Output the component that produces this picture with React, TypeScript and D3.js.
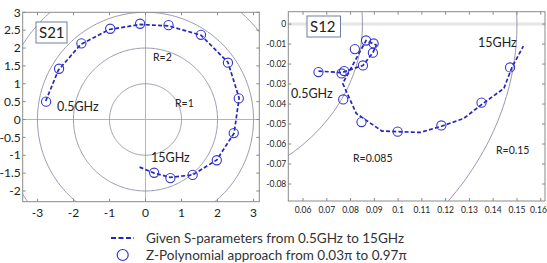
import React from 'react';
import * as d3 from 'd3';

// S21 (left panel): dashed trace and Z-polynomial samples
const s21Trace: [number, number][] = [
  [-2.77, 0.52], [-2.42, 1.38], [-1.8, 2.1], [-1.0, 2.52], [-0.15, 2.66],
  [0.64, 2.62], [1.54, 2.36], [2.29, 1.6], [2.6, 0.6], [2.46, -0.38],
  [1.98, -1.13], [1.31, -1.55], [0.69, -1.62], [0.24, -1.5], [-0.17, -1.33],
];
const s21Samples: [number, number][] = [
  [-2.76, 0.5], [-2.4, 1.42], [-1.78, 2.13], [-0.98, 2.54], [-0.15, 2.68],
  [0.64, 2.64], [1.54, 2.37], [2.29, 1.59], [2.59, 0.59], [2.45, -0.38],
  [1.98, -1.14], [1.31, -1.55], [0.69, -1.64], [0.24, -1.49],
];
const s21Rings = [1, 2, 3, 4];
const s21XTicks = [-3, -2, -1, 0, 1, 2, 3];
const s21YTicks = [-2, -1.5, -1, -0.5, 0, 0.5, 1, 1.5, 2, 2.5, 3];

// S12 (right panel)
const s12Trace: [number, number][] = [
  [0.0665, -0.0235], [0.0762, -0.0243], [0.0852, -0.0207], [0.0894, -0.0143],
  [0.0908, -0.0105], [0.0865, -0.0082], [0.0767, -0.0297], [0.0824, -0.0447],
  [0.0932, -0.0535], [0.1094, -0.0542], [0.1185, -0.051], [0.1276, -0.0472],
  [0.1354, -0.04], [0.1445, -0.0322], [0.148, -0.0213], [0.1527, -0.011],
];
const s12Samples: [number, number][] = [
  [0.0665, -0.024], [0.0762, -0.0247], [0.0773, -0.0235], [0.0818, -0.0125],
  [0.0865, -0.0082], [0.0897, -0.0097], [0.0894, -0.0143], [0.0852, -0.0207],
  [0.0769, -0.0377], [0.0846, -0.049], [0.0998, -0.0538], [0.1182, -0.0507],
  [0.1351, -0.0393], [0.1471, -0.0217],
];
const s12Rings = [0.085, 0.15];
const s12XTicks = [0.06, 0.07, 0.08, 0.09, 0.1, 0.11, 0.12, 0.13, 0.14, 0.15, 0.16];
const s12YTicks = [0, -0.01, -0.02, -0.03, -0.04, -0.05, -0.06, -0.07, -0.08];

const legendItems = [
  'Given S-parameters from 0.5GHz to 15GHz',
  'Z-Polynomial approach from 0.03\u03c0 to 0.97\u03c0',
];

const WIDTH = 547;
const HEIGHT = 263;
const FONT = 'Lato, "Open Sans", sans-serif';
const TRACE = '#2626b8';
const MARKER = '#3636cc';
const RING = '#8c8ca8';
const FRAME = '#8a8a8a';
const TEXT = '#222';

type Scale = d3.ScaleLinear<number, number>;

const ringPath = (x: Scale, y: Scale, r: number) =>
  d3
    .line<number>()
    .x((a) => x(r * Math.cos(a)))
    .y((a) => y(r * Math.sin(a)))(d3.range(0, 2 * Math.PI + 0.01, Math.PI / 180)) || '';

interface PanelProps {
  id: string;
  x: Scale;
  y: Scale;
  xTicks: number[];
  yTicks: number[];
  tickFont: number;
  rings: number[];
  trace: [number, number][];
  samples: [number, number][];
  zeroLines: 'both' | 'y';
  children?: React.ReactNode;
}

const Panel = ({ id, x, y, xTicks, yTicks, tickFont, rings, trace, samples, zeroLines, children }: PanelProps) => {
  const [x0, x1] = x.range();
  const [y0, y1] = y.range();
  const line = d3
    .line<[number, number]>()
    .x((d) => x(d[0]))
    .y((d) => y(d[1]));
  const tl = 3;
  // keep the last tick label inside the svg
  const labelX = (t: number) => Math.min(x(t), WIDTH - tickFont);
  return (
    <g>
      <defs>
        <clipPath id={id}>
          <rect x={x0} y={y1} width={x1 - x0} height={y0 - y1} />
        </clipPath>
      </defs>
      <rect x={x0} y={y1} width={x1 - x0} height={y0 - y1} fill="#fff" />
      <g clipPath={`url(#${id})`}>
        {zeroLines === 'both' && (
          <>
            <line x1={x(0)} x2={x(0)} y1={y1} y2={y0} stroke="#b4b4b4" strokeWidth={1} />
            <line x1={x0} x2={x1} y1={y(0)} y2={y(0)} stroke="#b4b4b4" strokeWidth={1} />
          </>
        )}
        {zeroLines === 'y' && (
          <line x1={x0} x2={x1} y1={y(0)} y2={y(0)} stroke="#e6e6e6" strokeWidth={3} />
        )}
        {rings.map((r) => (
          <path key={r} d={ringPath(x, y, r)} fill="none" stroke={RING} strokeWidth={0.9} />
        ))}
        <path d={line(trace) || ''} fill="none" stroke={TRACE} strokeWidth={1.7} strokeDasharray="4,2.2" />
        {samples.map((d, i) => (
          <circle key={i} cx={x(d[0])} cy={y(d[1])} r={4.6} fill="none" stroke={MARKER} strokeWidth={1.1} />
        ))}
      </g>
      <rect x={x0} y={y1} width={x1 - x0} height={y0 - y1} fill="none" stroke={FRAME} strokeWidth={1} />
      {xTicks.map((t) => (
        <g key={`x${t}`}>
          <line x1={x(t)} x2={x(t)} y1={y0} y2={y0 - tl} stroke={FRAME} />
          <line x1={x(t)} x2={x(t)} y1={y1} y2={y1 + tl} stroke={FRAME} />
          <text x={labelX(t)} y={y0 + tickFont + 3} textAnchor="middle" fontSize={tickFont} fill={TEXT} fontFamily={FONT}>
            {String(+t.toFixed(3))}
          </text>
        </g>
      ))}
      {yTicks.map((t) => (
        <g key={`y${t}`}>
          <line x1={x0} x2={x0 + tl} y1={y(t)} y2={y(t)} stroke={FRAME} />
          <line x1={x1} x2={x1 - tl} y1={y(t)} y2={y(t)} stroke={FRAME} />
          <text x={x0 - 2} y={y(t)} dy="0.35em" textAnchor="end" fontSize={tickFont} fill={TEXT} fontFamily={FONT}>
            {String(+t.toFixed(3))}
          </text>
        </g>
      ))}
      {children}
    </g>
  );
};

const Label = ({ x, y, text, size = 12 }: { x: number; y: number; text: string; size?: number }) => (
  <text x={x} y={y} dy="0.35em" fontSize={size} fill={TEXT} fontFamily={FONT}>
    {text}
  </text>
);

const App = () => {
  const lx = d3.scaleLinear().domain([-3.41, 3.16]).range([22.7, 259.3]);
  const ly = d3.scaleLinear().domain([-2.3, 3]).range([201.7, 12.3]);
  const rx = d3.scaleLinear().domain([0.0538, 0.1618]).range([288.3, 545]);
  const ry = d3.scaleLinear().domain([-0.0885, 0.0062]).range([201, 11.7]);

  return (
    <svg
      width={WIDTH}
      height={HEIGHT}
      style={{ position: 'absolute', left: 0, top: 0, background: '#fff' }}
    >
      <Panel
        id="clip-s21"
        x={lx}
        y={ly}
        xTicks={s21XTicks}
        yTicks={s21YTicks}
        tickFont={12}
        rings={s21Rings}
        trace={s21Trace}
        samples={s21Samples}
        zeroLines="both"
      >
        <rect x={36} y={22} width={31} height={21} fill="#fff" stroke="#6f7f9f" strokeWidth={1} />
        <Label x={39} y={33} text="S21" size={15} />
        <Label x={57} y={107} text="0.5GHz" size={12.5} />
        <Label x={153} y={57} text="R=2" size={10.5} />
        <Label x={175} y={103} text="R=1" size={10.5} />
        <Label x={151} y={158} text="15GHz" size={12.5} />
      </Panel>
      <Panel
        id="clip-s12"
        x={rx}
        y={ry}
        xTicks={s12XTicks}
        yTicks={s12YTicks}
        tickFont={8.5}
        rings={s12Rings}
        trace={s12Trace}
        samples={s12Samples}
        zeroLines="y"
      >
        <rect x={307} y={16} width={33.5} height={21} fill="#fff" stroke="#6f7f9f" strokeWidth={1} />
        <Label x={310} y={27} text="S12" size={15} />
        <Label x={291} y={94} text="0.5GHz" size={12.5} />
        <Label x={353} y={158} text="R=0.085" size={10.5} />
        <Label x={478} y={43} text="15GHz" size={12.5} />
        <Label x={496} y={150} text="R=0.15" size={10.5} />
      </Panel>

      {/* legend */}
      <line x1={111} x2={134} y1={238} y2={238} stroke={TRACE} strokeWidth={2} strokeDasharray="5,2.5" />
      <text x={146} y={238} dy="0.35em" fontSize={13.5} fill="#333" fontFamily={FONT}>
        {legendItems[0]}
      </text>
      <circle cx={122.7} cy={255} r={5.5} fill="none" stroke={MARKER} strokeWidth={1.2} />
      <text x={146} y={255} dy="0.35em" fontSize={13.5} fill="#333" fontFamily={FONT}>
        {legendItems[1]}
      </text>
    </svg>
  );
};

export default App;
